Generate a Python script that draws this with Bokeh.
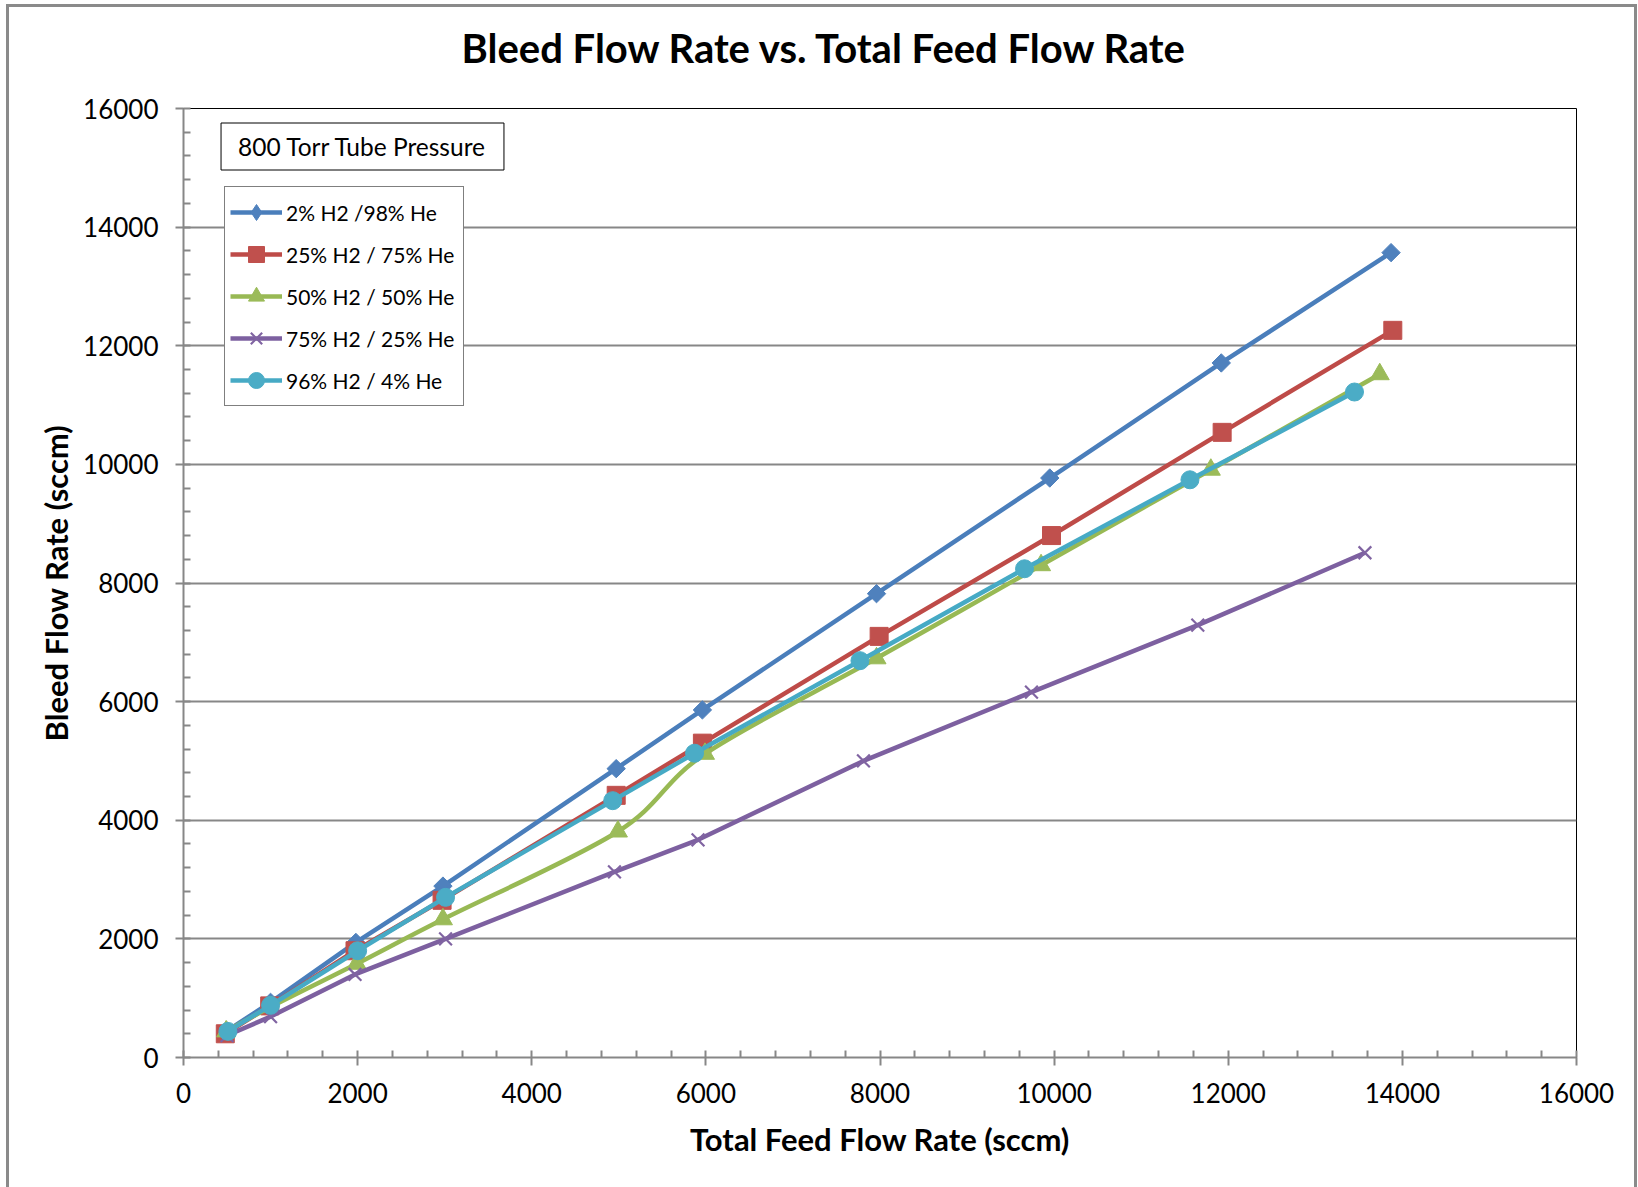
import math
from bokeh.plotting import figure
from bokeh.models import Legend, LegendItem, Label, SingleIntervalTicker, Title
from bokeh.embed import file_html
from bokeh.resources import INLINE

# ---- data ----
series_names = ["2% H2 /98% He", "25% H2 / 75% He", "50% H2 / 50% He",
                "75% H2 / 25% He", "96% H2 / 4% He"]

blue_x = [500, 1000, 1980, 2980, 4970, 5960, 7960, 9950, 11920, 13870]
blue_y = [450, 930, 1940, 2890, 4870, 5860, 7820, 9770, 11710, 13570]

red_x = [480, 990, 1970, 2970, 4970, 5960, 7990, 9970, 11930, 13890]
red_y = [400, 870, 1800, 2650, 4420, 5300, 7100, 8800, 10540, 12260]

green_x = [490, 1000, 1990, 2980, 4990, 5990, 7960, 9850, 11800, 13740]
green_y = [440, 850, 1580, 2330, 3810, 5120, 6730, 8300, 9910, 11520]

purple_x = [500, 1000, 1970, 3010, 4950, 5910, 7810, 9740, 11650, 13570]
purple_y = [370, 690, 1400, 2000, 3130, 3670, 5000, 6160, 7290, 8510]

cyan_x = [510, 1000, 2000, 3010, 4930, 5870, 7770, 9660, 11560, 13450]
cyan_y = [440, 880, 1800, 2700, 4330, 5130, 6690, 8240, 9740, 11220]

title_text = "Bleed Flow Rate vs. Total Feed Flow Rate"
x_title = "Total Feed Flow Rate (sccm)"
y_title = "Bleed Flow Rate (sccm)"
note_text = "800 Torr Tube Pressure"

FONT = "Lato"
GRAY = "#878787"

p = figure(width=1631, height=1183, x_range=(0, 16000), y_range=(0, 16000),
           output_backend="svg", toolbar_location=None, title=None,
           min_border_left=174, min_border_right=64, min_border_top=101,
           min_border_bottom=133)
p.styles = {"box-sizing": "border-box",
            "border-left": "3px solid #8a8a8a", "border-top": "3px solid #8a8a8a",
            "border-right": "3px solid #8a8a8a", "border-bottom": "none",
            "margin-left": "6px", "margin-top": "4px"}

# spacer between the frame and the title (pushes the title up)
spacer = Title(text=" ", text_font=FONT, text_font_size="10px", standoff=18)
p.add_layout(spacer, "above")
main_title = Title(text=title_text, align="left", offset=278, standoff=10,
                   text_font=FONT, text_font_size="40px", text_font_style="bold",
                   text_color="black")
p.add_layout(main_title, "above")

p.outline_line_color = "black"
p.outline_line_width = 1
p.background_fill_color = "white"
p.border_fill_color = "white"

# axes
for ax, lab in ((p.xaxis[0], x_title), (p.yaxis[0], y_title)):
    ax.ticker = SingleIntervalTicker(interval=2000, num_minor_ticks=5)
    ax.axis_label = lab
    ax.axis_label_text_font = FONT
    ax.axis_label_text_font_size = "31px"
    ax.axis_label_text_font_style = "bold"
    ax.axis_label_text_color = "black"
    ax.major_label_text_font = FONT
    ax.major_label_text_font_size = "26px"
    ax.major_label_text_color = "black"
    ax.axis_line_color = GRAY
    ax.axis_line_width = 2
    ax.major_tick_line_color = GRAY
    ax.major_tick_line_width = 2
    ax.minor_tick_line_color = GRAY
    ax.minor_tick_line_width = 2
    ax.major_tick_out = 8
    ax.major_tick_in = 0
    ax.minor_tick_in = 7
    ax.minor_tick_out = 0
p.xaxis[0].major_label_standoff = 17
p.xaxis[0].axis_label_standoff = 14
p.yaxis[0].major_label_standoff = 17
p.yaxis[0].axis_label_standoff = 5

p.xgrid.visible = False
p.ygrid.grid_line_color = GRAY
p.ygrid.grid_line_width = 2

LW = 4.5
items = []

# blue, diamond markers
r1 = p.line(blue_x, blue_y, line_color="#4A7EBB", line_width=LW)
m1 = p.scatter(blue_x, blue_y, marker="square", angle=math.pi / 4, size=13,
               fill_color="#4F81BD", line_color="#4F81BD")
# legend-only diamond (not drawn on the plot)
m1_leg = p.scatter(blue_x, blue_y, marker="diamond", size=14,
                   fill_color="#4F81BD", line_color="#4F81BD", visible=False)
items.append(LegendItem(label=series_names[0], renderers=[r1, m1_leg]))

# red, squares
r2 = p.line(red_x, red_y, line_color="#BE4B48", line_width=LW)
m2 = p.scatter(red_x, red_y, marker="square", size=18,
               fill_color="#C0504D", line_color="#C0504D")
items.append(LegendItem(label=series_names[1], renderers=[r2, m2]))

# green, smoothed line (Excel style) + triangles
n = len(green_x)
gx0, gy0, gx1, gy1, cx0, cy0, cx1, cy1 = [], [], [], [], [], [], [], []
for i in range(n - 1):
    xa, ya = green_x[i], green_y[i]
    xb, yb = green_x[i + 1], green_y[i + 1]
    xp, yp = (green_x[i - 1], green_y[i - 1]) if i > 0 else (xa, ya)
    xn, yn = (green_x[i + 2], green_y[i + 2]) if i + 2 < n else (xb, yb)
    gx0.append(xa); gy0.append(ya); gx1.append(xb); gy1.append(yb)
    cx0.append(xa + (xb - xp) / 6.0); cy0.append(ya + (yb - yp) / 6.0)
    cx1.append(xb - (xn - xa) / 6.0); cy1.append(yb - (yn - ya) / 6.0)
r3 = p.bezier(x0=gx0, y0=gy0, x1=gx1, y1=gy1, cx0=cx0, cy0=cy0, cx1=cx1, cy1=cy1,
              line_color="#98B954", line_width=LW)
m3 = p.scatter(green_x, green_y, marker="triangle", size=19,
               fill_color="#9BBB59", line_color="#9BBB59")
items.append(LegendItem(label=series_names[2], renderers=[r3, m3]))

# purple, x markers
r4 = p.line(purple_x, purple_y, line_color="#7D60A0", line_width=LW)
m4 = p.scatter(purple_x, purple_y, marker="x", size=18,
               line_color="#8064A2", line_width=2.2)
items.append(LegendItem(label=series_names[3], renderers=[r4, m4]))

# cyan, circles
r5 = p.line(cyan_x, cyan_y, line_color="#46AAC5", line_width=LW)
m5 = p.scatter(cyan_x, cyan_y, marker="circle", size=18,
               fill_color="#4BACC6", line_color="#4BACC6")
items.append(LegendItem(label=series_names[4], renderers=[r5, m5]))

legend = Legend(items=items, location=(41, 651), orientation="vertical",
                label_text_font=FONT, label_text_font_size="21px",
                label_text_color="black",
                glyph_width=52, glyph_height=40, label_height=40, label_width=172,
                spacing=2, padding=5, margin=0, label_standoff=4,
                border_line_color="black", border_line_width=1,
                background_fill_color="white", background_fill_alpha=1.0)
p.add_layout(legend)

note = Label(x=179, y=911, x_units="screen", y_units="screen",
             text=note_text, text_font=FONT, text_font_size="24.5px",
             text_align="center", text_baseline="middle", text_color="black",
             border_line_color="black", border_line_width=1,
             background_fill_color="white", padding=(17, 9))
p.add_layout(note)

open("out.html", "w").write(file_html(p, INLINE))
